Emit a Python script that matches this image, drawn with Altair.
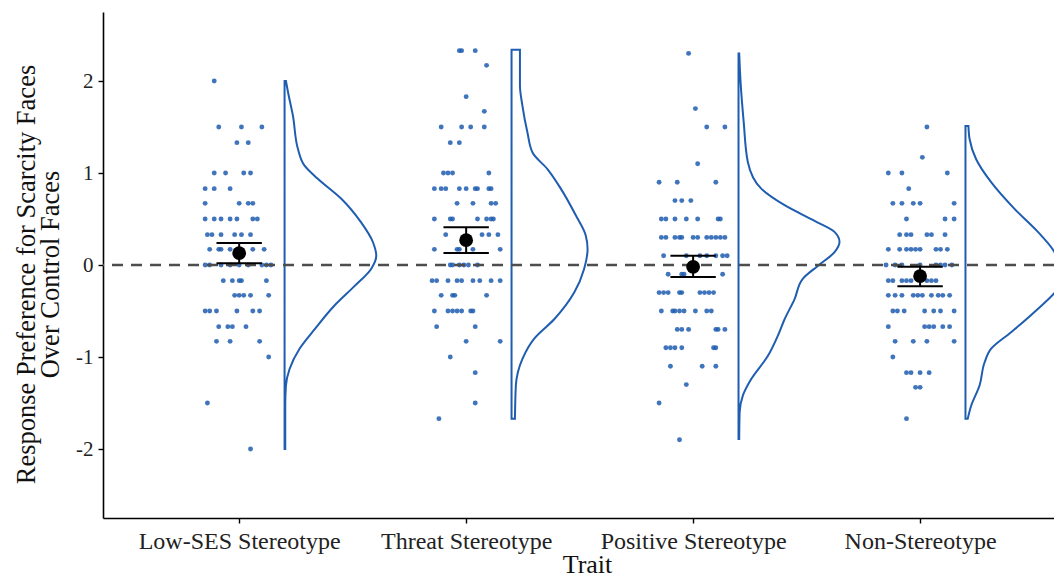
import altair as alt
import pandas as pd

# ---------------- data ----------------
traits = ["Low-SES Stereotype", "Threat Stereotype", "Positive Stereotype", "Non-Stereotype"]

# observed values (rows of identical scores) and the horizontal jitter of each dot
lowses_levels = [2.0, 1.5, 1.33, 1.0, 0.83, 0.67, 0.5, 0.33, 0.17, 0.0, -0.17, -0.33, -0.5, -0.67, -0.83, -1.0, -1.5, -2.0]
lowses_jitter = [[-0.11], [-0.09, 0.01, 0.10], [-0.01, 0.04], [-0.11, -0.06, 0.02, 0.05],
                 [-0.15, -0.11, -0.04], [-0.15, 0.00, 0.04, 0.06],
                 [-0.15, -0.11, -0.08, -0.04, -0.01, 0.06, 0.08],
                 [-0.14, -0.12, -0.08, -0.02, 0.01, 0.05],
                 [-0.13, -0.09, -0.08, -0.04, 0.06, 0.11],
                 [-0.15, -0.13, -0.08, -0.04, 0.00, 0.04, 0.10, 0.12, 0.14],
                 [-0.07, -0.03, 0.00, 0.01, 0.12], [-0.02, 0.00, 0.02, 0.05, 0.13],
                 [-0.15, -0.13, -0.10, -0.01, 0.06, 0.09], [-0.09, -0.05, -0.03, 0.03],
                 [-0.10, -0.04, 0.09], [0.13], [-0.14], [0.05]]

threat_levels = [2.33, 2.17, 1.83, 1.67, 1.5, 1.33, 1.0, 0.83, 0.67, 0.5, 0.33, 0.17, 0.0, -0.17, -0.33, -0.5, -0.67, -0.83, -1.0, -1.17, -1.5, -1.67]
threat_jitter = [[-0.03, -0.02, 0.04], [0.09], [0.00], [0.08], [-0.11, -0.02, 0.02, 0.08],
                 [-0.07, -0.03], [-0.10, -0.08, -0.06, 0.10],
                 [-0.14, -0.11, -0.09, -0.03, 0.00, 0.04, 0.05, 0.10, 0.11],
                 [-0.04, 0.03, 0.11, 0.13],
                 [-0.14, -0.07, -0.06, 0.05, 0.09, 0.11, 0.12],
                 [-0.09, 0.07, 0.10, 0.14],
                 [-0.14, -0.04, -0.03, 0.03, 0.15],
                 [-0.07, -0.06, -0.03, -0.01, 0.01, 0.05],
                 [-0.15, -0.13, -0.08, -0.04, -0.02, 0.03, 0.06, 0.11, 0.15],
                 [-0.11, -0.06, -0.05, 0.09],
                 [-0.14, -0.08, -0.06, -0.04, -0.02, 0.02, 0.03],
                 [-0.13, 0.04], [0.00, 0.15], [-0.07], [0.04], [0.04], [-0.12]]

positive_levels = [2.3, 1.7, 1.5, 1.1, 0.9, 0.7, 0.5, 0.3, 0.1, -0.1, -0.3, -0.5, -0.7, -0.9, -1.1, -1.3, -1.5, -1.9]
positive_jitter = [[-0.02], [0.01], [0.06, 0.14], [0.02], [-0.15, -0.07, 0.10],
                   [-0.08, -0.05, -0.01],
                   [-0.14, -0.12, -0.08, -0.03, 0.02, 0.11, 0.12],
                   [-0.14, -0.12, -0.08, -0.06, -0.05, 0.00, 0.02, 0.06, 0.08, 0.10, 0.12, 0.14],
                   [-0.13, -0.03, 0.03, 0.06, 0.10, 0.13, 0.15],
                   [-0.11, -0.05, -0.04, 0.13],
                   [-0.15, -0.13, -0.11, -0.06, -0.05, 0.03, 0.05, 0.07, 0.09],
                   [-0.14, -0.09, -0.08, -0.06, -0.04, 0.01, 0.06, 0.08],
                   [-0.07, -0.05, -0.02, 0.10, 0.11, 0.14],
                   [-0.12, -0.10, -0.08, -0.05, 0.09, 0.10],
                   [-0.10, 0.04, 0.10], [-0.03], [-0.15], [-0.06]]

non_levels = [1.5, 1.17, 1.0, 0.83, 0.67, 0.5, 0.33, 0.17, 0.0, -0.17, -0.33, -0.5, -0.67, -0.83, -1.0, -1.17, -1.33, -1.67]
non_jitter = [[0.03], [0.01], [-0.14, -0.08, 0.12], [-0.05],
              [-0.12, -0.08, -0.03, 0.00, 0.15], [-0.06, 0.11, 0.15],
              [-0.09, -0.06, -0.04, 0.03, 0.05, 0.11],
              [-0.14, -0.09, -0.06, -0.04, -0.02, 0.00, 0.07, 0.09, 0.12],
              [-0.15, -0.11, -0.08, 0.00, 0.07, 0.09, 0.11, 0.14],
              [-0.14, -0.12, -0.08, -0.06, -0.04, 0.03, 0.05, 0.07],
              [-0.14, -0.11, -0.08, -0.03, -0.01, 0.01, 0.05, 0.08, 0.10, 0.13],
              [-0.12, -0.10, -0.07, 0.02, 0.06, 0.09, 0.15],
              [-0.14, 0.02, 0.04, 0.06, 0.10, 0.13],
              [-0.11, -0.03, 0.03, 0.15], [-0.12],
              [-0.06, -0.04, 0.00, 0.04], [-0.02, 0.00], [-0.06]]

# half-violin outlines: score and density half-width (in category units)
lowses_dens_y = [2.0, 1.88, 1.62, 1.26, 1.08, 0.94, 0.72, 0.46, 0.25, 0.10, -0.04, -0.23, -0.44, -0.70, -0.91, -1.13, -1.31, -1.53, -2.0]
lowses_dens_w = [0.006, 0.015, 0.037, 0.059, 0.088, 0.145, 0.25, 0.338, 0.389, 0.404, 0.382, 0.308, 0.22, 0.132, 0.066, 0.022, 0.006, 0.003, 0.003]
threat_dens_y = [2.34, 1.95, 1.73, 1.44, 1.22, 1.04, 0.83, 0.54, 0.32, 0.17, -0.04, -0.30, -0.59, -0.80, -1.02, -1.31, -1.67]
threat_dens_w = [0.037, 0.037, 0.048, 0.070, 0.093, 0.159, 0.217, 0.283, 0.327, 0.335, 0.320, 0.276, 0.188, 0.100, 0.048, 0.019, 0.015]
positive_dens_y = [2.30, 1.99, 1.55, 1.12, 0.83, 0.65, 0.48, 0.36, 0.25, 0.14, -0.01, -0.15, -0.37, -0.59, -0.77, -0.99, -1.24, -1.42, -1.60, -1.89]
positive_dens_w = [0.003, 0.009, 0.023, 0.041, 0.100, 0.203, 0.335, 0.423, 0.445, 0.423, 0.349, 0.283, 0.247, 0.203, 0.173, 0.129, 0.056, 0.019, 0.005, 0.003]
non_dens_y = [1.51, 1.37, 1.15, 0.90, 0.61, 0.36, 0.14, -0.01, -0.12, -0.23, -0.51, -0.73, -0.91, -1.06, -1.31, -1.53, -1.67]
non_dens_w = [0.013, 0.018, 0.047, 0.113, 0.216, 0.319, 0.392, 0.414, 0.432, 0.415, 0.304, 0.201, 0.113, 0.084, 0.062, 0.025, 0.010]

# means and standard-error limits
means = [0.13, 0.27, -0.02, -0.12]
se_low = [0.02, 0.13, -0.13, -0.23]
se_high = [0.24, 0.41, 0.10, -0.02]

# ---------------- tables ----------------
pt_rows = []
for gi, (levels, jit) in enumerate([(lowses_levels, lowses_jitter), (threat_levels, threat_jitter),
                                    (positive_levels, positive_jitter), (non_levels, non_jitter)]):
    for lv, js in zip(levels, jit):
        for j in js:
            pt_rows.append({"trait": traits[gi], "idx": gi + 1, "jit": j, "score": lv})
points_df = pd.DataFrame(pt_rows)

v_rows = []
for gi, (ys_, ws_) in enumerate([(lowses_dens_y, lowses_dens_w), (threat_dens_y, threat_dens_w),
                                 (positive_dens_y, positive_dens_w), (non_dens_y, non_dens_w)]):
    for yv, wv in zip(ys_, ws_):
        v_rows.append({"trait": traits[gi], "idx": gi + 1, "score": yv, "w": wv})
violin_df = pd.DataFrame(v_rows)

summary_df = pd.DataFrame({"trait": traits, "idx": [1, 2, 3, 4], "mean": means,
                           "lo": se_low, "hi": se_high})

# ---------------- chart ----------------
FONT = "Liberation Serif"
BLUE = "#1f5db0"
xdom = [0.4, 4.59]
ydom = [-2.75, 2.75]

label_expr = ("datum.value == 1 ? 'Low-SES Stereotype' : datum.value == 2 ? 'Threat Stereotype' : "
              "datum.value == 3 ? 'Positive Stereotype' : datum.value == 4 ? 'Non-Stereotype' : ''")

x_axis = alt.Axis(values=[1, 2, 3, 4], labelExpr=label_expr, title="Trait", grid=False,
                  titleX=484, titleY=46, titleBaseline="middle", titleAlign="center",
                  labelPadding=6, labelFontSize=24, titleFontSize=26, labelLimit=400,
                  labelOverlap=False)
y_axis = alt.Axis(values=[-2, -1, 0, 1, 2], grid=False,
                  labelExpr="datum.value < 0 ? '-' + abs(datum.value) : '' + datum.value",
                  title=["Response Preference for Scarcity Faces", "Over Control Faces"],
                  titleX=-77, titleY=262, titleAngle=270, titleAlign="center", titleBaseline="middle",
                  titleLineHeight=24, labelPadding=5, labelFontSize=21, titleFontSize=26.5)

xs = alt.Scale(domain=xdom, nice=False, zero=False)
ys = alt.Scale(domain=ydom, nice=False, zero=False)

pts = alt.Chart(points_df).mark_circle(size=24, color=BLUE, opacity=0.85).transform_calculate(
    xp="datum.idx + datum.jit"
).encode(
    x=alt.X("xp:Q", scale=xs, axis=x_axis),
    y=alt.Y("score:Q", scale=ys, axis=y_axis),
)

violin = alt.Chart(violin_df).mark_area(
    orient="horizontal", interpolate="monotone", fillOpacity=0, stroke=BLUE, strokeWidth=2, clip=True
).transform_calculate(
    xr="datum.idx + 0.2 + datum.w", xb="datum.idx + 0.2"
).encode(
    y=alt.Y("score:Q", scale=ys),
    x=alt.X("xr:Q", scale=xs),
    x2="xb:Q",
    detail="trait:N",
)

zero_line = alt.Chart(pd.DataFrame({"z": [0]})).mark_rule(
    color="#4d4d4d", strokeWidth=2.4, strokeDash=[11, 8]
).encode(y=alt.Y("z:Q", scale=ys))

err_v = alt.Chart(summary_df).mark_rule(color="black", strokeWidth=2).encode(
    x=alt.X("idx:Q", scale=xs), y=alt.Y("lo:Q", scale=ys), y2="hi:Q"
)
cap_base = alt.Chart(summary_df).transform_calculate(a="datum.idx - 0.1", b="datum.idx + 0.1")
cap_lo = cap_base.mark_rule(color="black", strokeWidth=2).encode(
    x=alt.X("a:Q", scale=xs), x2="b:Q", y=alt.Y("lo:Q", scale=ys)
)
cap_hi = cap_base.mark_rule(color="black", strokeWidth=2).encode(
    x=alt.X("a:Q", scale=xs), x2="b:Q", y=alt.Y("hi:Q", scale=ys)
)
mean_pt = alt.Chart(summary_df).mark_circle(size=190, color="black", opacity=1).encode(
    x=alt.X("idx:Q", scale=xs), y=alt.Y("mean:Q", scale=ys)
)

chart = alt.layer(pts, violin, zero_line, err_v, cap_lo, cap_hi, mean_pt).properties(
    width=951, height=506,
    autosize=alt.AutoSizeParams(type="none"),
    padding={"left": 95, "top": 4, "right": 0, "bottom": 60},
).configure_view(stroke=None).configure_axis(
    domainColor="black", domainWidth=1.6, tickColor="black", tickWidth=1.4, tickSize=5,
    labelFont=FONT, labelColor="#222222",
    titleFont=FONT, titleFontWeight="normal", titleColor="#111111",
)

chart.save("out.html", embed_options={"renderer": "svg", "actions": False})
